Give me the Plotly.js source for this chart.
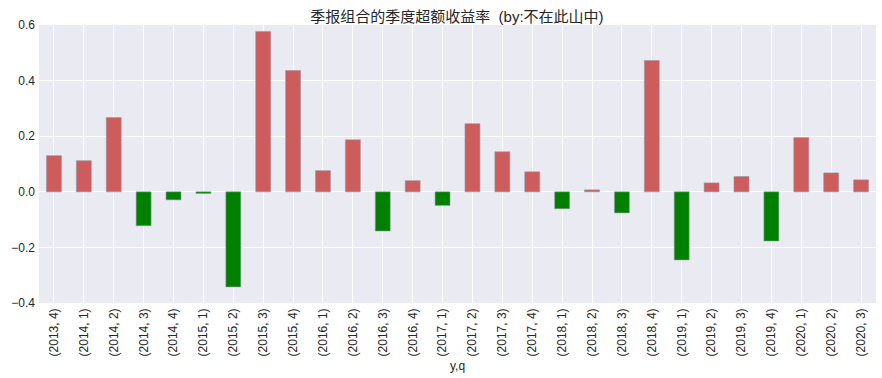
<!DOCTYPE html>
<html><head><meta charset="utf-8">
<script src="https://cdn.plot.ly/plotly-3.0.1.min.js"></script>
<style>html,body{margin:0;padding:0;background:#fff;}#chart{width:882px;height:378px;}</style>
</head><body><div id="chart"></div>
<script>
const categories = ["(2013, 4)","(2014, 1)","(2014, 2)","(2014, 3)","(2014, 4)","(2015, 1)","(2015, 2)","(2015, 3)","(2015, 4)","(2016, 1)","(2016, 2)","(2016, 3)","(2016, 4)","(2017, 1)","(2017, 2)","(2017, 3)","(2017, 4)","(2018, 1)","(2018, 2)","(2018, 3)","(2018, 4)","(2019, 1)","(2019, 2)","(2019, 3)","(2019, 4)","(2020, 1)","(2020, 2)","(2020, 3)"];
const excessReturn = [0.130,0.112,0.267,-0.122,-0.029,-0.006,-0.342,0.577,0.436,0.076,0.187,-0.141,0.040,-0.049,0.245,0.144,0.072,-0.061,0.007,-0.076,0.472,-0.245,0.032,0.055,-0.177,0.195,0.068,0.043];
const yTicks = [-0.4,-0.2,0.0,0.2,0.4,0.6];

const colors = excessReturn.map(v => v >= 0 ? "#CD5C5C" : "#008000");
const font = "Liberation Sans, Noto Sans CJK SC, sans-serif";

Plotly.newPlot("chart", [{
  type: "bar",
  x: categories,
  y: excessReturn,
  width: 0.5,
  marker: {color: colors, line: {color: "rgba(150,150,165,0.55)", width: 1}},
  hoverinfo: "x+y"
}], {
  width: 882, height: 378,
  margin: {l: 39, r: 6, t: 25, b: 75},
  paper_bgcolor: "#ffffff",
  plot_bgcolor: "#EAEAF2",
  font: {family: font, color: "#262626", size: 12},
  title: {text: "季报组合的季度超额收益率  (by:不在此山中)", font: {family: font, size: 15, color: "#262626"}, x: 0.518, xanchor: "center", y: 0.957, yanchor: "middle"},
  xaxis: {
    type: "category",
    range: [-0.5, categories.length - 0.5],
    tickangle: -90,
    showgrid: true, gridcolor: "#ffffff", gridwidth: 1,
    zeroline: false, showline: false,
    ticks: "", ticklen: 0,
    ticklabelstandoff: 2,
    tickfont: {size: 12, color: "#262626"},
    title: {text: "y,q", font: {size: 12, color: "#262626"}, standoff: 6}
  },
  yaxis: {
    range: [-0.4, 0.6],
    tickvals: yTicks,
    tickformat: ".1f",
    showgrid: true, gridcolor: "#ffffff", gridwidth: 1,
    zeroline: false, showline: false,
    ticks: "",
    ticklabelstandoff: 3,
    tickfont: {size: 12, color: "#262626"}
  },
  showlegend: false,
  bargap: 0.5
}, {displayModeBar: false, staticPlot: true});
</script></body></html>
